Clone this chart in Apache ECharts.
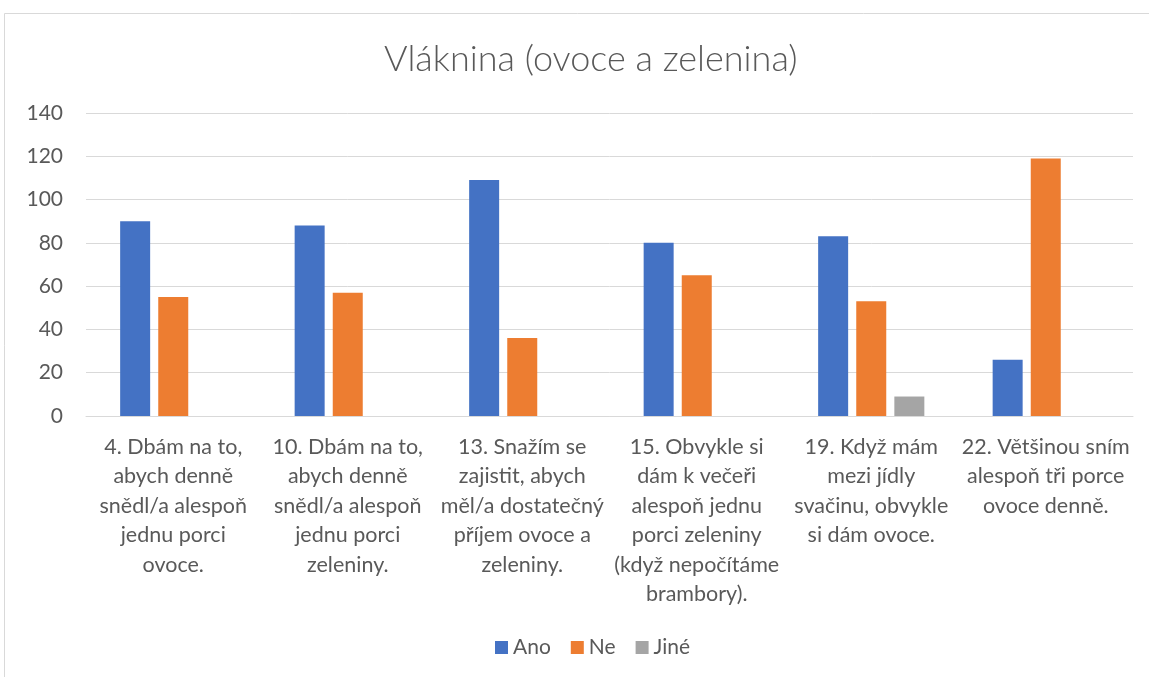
<!DOCTYPE html>
<html>
<head>
<meta charset="utf-8">
<script src="https://cdn.jsdelivr.net/npm/echarts@6/dist/echarts.min.js"></script>
<style>
html,body{margin:0;padding:0;background:#fff;}
#c{width:1149px;height:677px;}
</style>
</head>
<body>
<div id="c"></div>
<script>
const title = 'Vláknina (ovoce a zelenina)';
const categories = [
  '4. Dbám na to,\nabych denně\nsnědl/a alespoň\njednu porci\novoce.',
  '10. Dbám na to,\nabych denně\nsnědl/a alespoň\njednu porci\nzeleniny.',
  '13. Snažím se\nzajistit, abych\nměl/a dostatečný\npříjem ovoce a\nzeleniny.',
  '15. Obvykle si\ndám k večeři\nalespoň jednu\nporci zeleniny\n(když nepočítáme\nbrambory).',
  '19. Když mám\nmezi jídly\nsvačinu, obvykle\nsi dám ovoce.',
  '22. Většinou sním\nalespoň tři porce\novoce denně.'
];
const seriesNames = ['Ano', 'Ne', 'Jiné'];
const ano = [90, 88, 109, 80, 83, 26];
const ne = [55, 57, 36, 65, 53, 119];
const jine = [0, 0, 0, 0, 9, 0];
const colors = ['#4472C4', '#ED7D31', '#A5A5A5'];

const FONT = 'Lato';
const chart = echarts.init(document.getElementById('c'), null, {renderer: 'canvas'});
const mk = (name, data, color) => ({
  name, type: 'bar', data, barWidth: 30, barGap: '27%',
  itemStyle: {color}, emphasis: {disabled: true}
});
chart.setOption({
  animation: false,
  backgroundColor: '#fff',
  graphic: [{
    type: 'rect', shape: {x: 4.5, y: 13.5, width: 1150, height: 670},
    style: {fill: 'none', stroke: '#d9d9d9', lineWidth: 1}, silent: true
  }],
  title: {
    text: title, left: 379, top: 36,
    textStyle: {fontFamily: FONT, fontSize: 36, fontWeight: 300, color: '#595959'}
  },
  legend: {
    bottom: 14, left: 490, itemWidth: 13, itemHeight: 13, itemGap: 20,
    icon: 'rect',
    textStyle: {fontFamily: FONT, fontSize: 21, color: '#595959'},
    data: seriesNames
  },
  grid: {left: 86, right: 16, top: 113, bottom: 261, containLabel: false},
  xAxis: {
    type: 'category', data: categories,
    axisLine: {show: true, lineStyle: {color: '#d9d9d9', width: 1}},
    axisTick: {show: false},
    axisLabel: {interval: 0, fontFamily: FONT, fontSize: 21.5, color: '#595959', lineHeight: 29.5, margin: 16}
  },
  yAxis: {
    type: 'value', min: 0, max: 140, interval: 20,
    axisLine: {show: false}, axisTick: {show: false},
    splitLine: {lineStyle: {color: '#d9d9d9', width: 1}},
    axisLabel: {fontFamily: FONT, fontSize: 21, color: '#595959', margin: 23}
  },
  series: [mk(seriesNames[0], ano, colors[0]), mk(seriesNames[1], ne, colors[1]), mk(seriesNames[2], jine, colors[2])]
});
</script>
</body>
</html>
